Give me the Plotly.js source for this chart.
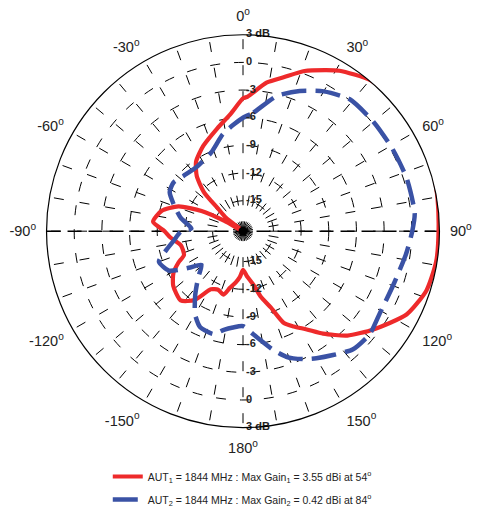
<!DOCTYPE html>
<html>
<head>
<meta charset="utf-8">
<script src="https://cdn.plot.ly/plotly-3.0.1.min.js"></script>
<style>html,body{margin:0;padding:0;background:#fff;}#chart{width:479px;height:514px;}</style>
</head>
<body>
<div id="chart"></div>
<script>
// Angular ticks (every 10 deg, labelled every 30 deg)
const angleTickVals = [0,10,20,30,40,50,60,70,80,90,100,110,120,130,140,150,160,170,180,190,200,210,220,230,240,250,260,270,280,290,300,310,320,330,340,350];
const angleTickText = ["0<sup>o</sup>","","","30<sup>o</sup>","","","60<sup>o</sup>","","","90<sup>o</sup>","","","120<sup>o</sup>","","","150<sup>o</sup>","","","180<sup>o</sup>","","","-150<sup>o</sup>","","","-120<sup>o</sup>","","","-90<sup>o</sup>","","","-60<sup>o</sup>","","","-30<sup>o</sup>","",""];

// Radial (gain) ticks
const gainTickVals = [3,0,-3,-6,-9,-12,-15];
const gainTickText = ["3 dB","0","-3","-6","-9","-12","-15"];
const gainRange = [-18.3, 3];

// AUT1 (red, solid)
const aut1Theta = [0,2,9,15,21,27,31,40,49,54,60,66,73,80,90,99,108,117,127,135,142,147,152,156,160,165,169,175,180,184,188,193,197,203,209,215,222,232,239,244,248,257,265,270,276,284,291,296,299,303,308,312,315,320,326,335,346,354,360];
const aut1Gain = [-3.9,-3.7,-2.0,-1.0,0.3,1.3,2.0,3.1,3.5,3.55,3.5,3.45,3.3,3.1,2.9,2.9,2.6,1.6,-0.6,-2.3,-4.2,-5.6,-6.6,-7.4,-9.5,-11.0,-12.4,-13.4,-14.1,-13.3,-12.7,-12.0,-11.1,-11.4,-11.1,-9.2,-8.2,-8.7,-9.5,-10.5,-11.4,-11.4,-10.4,-9.8,-8.5,-9.2,-10.8,-13.3,-16.0,-18.3,-16.0,-14.7,-12.3,-10.5,-9.2,-8.1,-6.8,-5.5,-3.9];

// AUT2 (blue, dashed)
const aut2Theta = [0,5,14,22,30,39,50,61,72,84,90,98,110,121,129,137,144,150,155,161,166,174,180,186,191,196,204,210,217,224,231,236,242,250,256,262,270,273,282,290,298,305,313,325,338,348,355,360];
const aut2Gain = [-6.0,-5.4,-3.2,-1.9,-0.8,0.1,0.15,0.2,0.35,0.42,0.05,-0.45,-1.0,-1.0,-0.6,-0.8,-1.7,-2.4,-3.0,-3.9,-5.1,-7.0,-8.0,-7.8,-7.4,-6.7,-6.9,-7.9,-9.7,-11.3,-12.5,-11.2,-9.2,-8.6,-9.7,-10.7,-11.6,-12.7,-11.4,-10.4,-9.3,-9.1,-9.5,-9.7,-9.1,-7.6,-6.7,-6.0];

const legend1 = "AUT<sub>1</sub> = 1844 MHz : Max Gain<sub>1</sub> = 3.55 dBi at 54<sup>o</sup>";
const legend2 = "AUT<sub>2</sub> = 1844 MHz : Max Gain<sub>2</sub> = 0.42 dBi at 84<sup>o</sup>";

const FONT = '"Liberation Sans", Arial, sans-serif';
const labelText = gainTickText.map(t => '\u00a0' + t);

const traces = [
  { type:'scatterpolar', mode:'lines', r:[gainRange[1], gainRange[0], gainRange[1]], theta:[270,270,90],
    line:{color:'#000', width:1.5, dash:'14px,7px'}, showlegend:false, hoverinfo:'skip', cliponaxis:false },
  { type:'scatterpolar', mode:'lines', r:aut1Gain, theta:aut1Theta, name:legend1, legendgroup:'a',
    line:{color:'#ee2a2b', width:4.2, shape:'spline', smoothing:0.6}, cliponaxis:false },
  { type:'scatterpolar', mode:'lines', r:aut2Gain, theta:aut2Theta, name:legend2, legendgroup:'b',
    line:{color:'#3a52a5', width:4.5, dash:'25px,9px', shape:'spline', smoothing:0.6}, cliponaxis:false },
  { type:'scatterpolar', mode:'markers', r:[gainRange[0]], theta:[0],
    marker:{color:'#000', size:9, symbol:'circle'}, showlegend:false, hoverinfo:'skip', cliponaxis:false },
  { type:'scatterpolar', mode:'text', r:gainTickVals, theta:gainTickVals.map(()=>0), text:labelText,
    textposition:'middle right', textfont:{family:FONT, size:11, color:'#222', weight:'bold'},
    showlegend:false, hoverinfo:'skip', cliponaxis:false },
  { type:'scatterpolar', mode:'text', r:gainTickVals, theta:gainTickVals.map(()=>180), text:labelText,
    textposition:'middle right', textfont:{family:FONT, size:11, color:'#222', weight:'bold'},
    showlegend:false, hoverinfo:'skip', cliponaxis:false }
];

const R = 198, cx = 243, cy = 233, W = 479, H = 514;
const layout = {
  width: W, height: H,
  margin:{l:0, r:0, t:0, b:0},
  paper_bgcolor:'#fff',
  font:{family:FONT, color:'#222'},
  showlegend:true,
  legend:{x:0.225, y:0.094, xanchor:'left', yanchor:'top', bgcolor:'rgba(0,0,0,0)',
          traceorder:'grouped', tracegroupgap:4,
          font:{family:FONT, size:10.5, color:'#222'}, itemwidth:30},
  polar:{
    domain:{x:[(cx-R)/W, (cx+R)/W], y:[(H-cy-R)/H, (H-cy+R)/H]},
    bgcolor:'#fff',
    angularaxis:{
      rotation:90, direction:'clockwise',
      tickmode:'array', tickvals:angleTickVals, ticktext:angleTickText,
      ticks:'outside', ticklen:7, tickcolor:'rgba(0,0,0,0)', tickwidth:1,
      showline:true, linecolor:'#000', linewidth:1.2,
      showgrid:true, gridcolor:'#000', gridwidth:1, griddash:'10px,16px',
      tickfont:{family:FONT, size:14.5, color:'#222'}
    },
    radialaxis:{
      range:gainRange, angle:90,
      tickmode:'array', tickvals:gainTickVals,
      showticklabels:false, ticks:'', showline:false,
      showgrid:true, gridcolor:'#000', gridwidth:1, griddash:'10px,14px'
    }
  }
};

Plotly.newPlot('chart', traces, layout, {displayModeBar:false, staticPlot:true});
</script>
</body>
</html>
